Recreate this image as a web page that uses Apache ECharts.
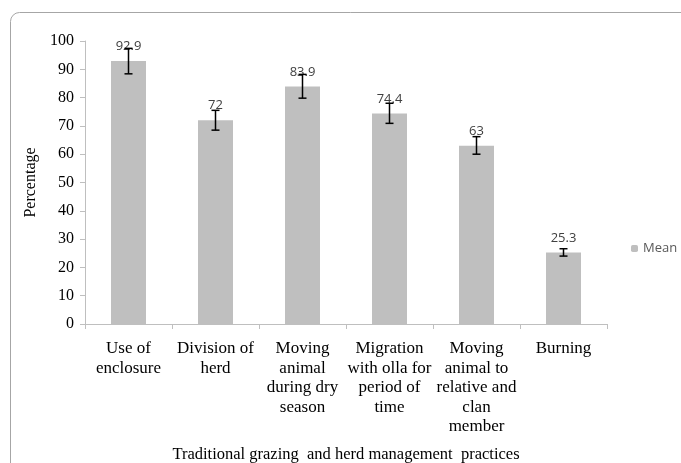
<!DOCTYPE html>
<html><head><meta charset="utf-8">
<script src="https://cdn.jsdelivr.net/npm/echarts@6/dist/echarts.min.js"></script>
<style>html,body{margin:0;padding:0;background:#fff}#c{width:681px;height:463px}</style>
</head><body><div id="c"></div>
<script>
var categories = ["Use of\nenclosure", "Division of\nherd", "Moving\nanimal\nduring dry\nseason", "Migration\nwith olla for\nperiod of\ntime", "Moving\nanimal to\nrelative and\nclan\nmember", "Burning"];
var meanValues = [92.9, 72, 83.9, 74.4, 63, 25.3];
var errLow = [88.4, 68.5, 79.8, 70.9, 60.0, 24.0];
var errHigh = [97.4, 75.5, 88.2, 78.0, 66.2, 26.6];
var yTicks = [0, 10, 20, 30, 40, 50, 60, 70, 80, 90, 100];

var errData = meanValues.map(function (v, i) { return [i, errLow[i], errHigh[i]]; });
var chart = echarts.init(document.getElementById('c'));
chart.setOption({
  animation: false,
  grid: { left: 85, right: 74, top: 41, bottom: 139 },
  graphic: [
    { type: 'rect', shape: { x: 10.5, y: 12.5, width: 720, height: 480, r: 9 }, style: { fill: 'none', stroke: '#a6a6a6', lineWidth: 1 }, z: -1 },
    { type: 'text', style: { text: 'Traditional grazing  and herd management  practices', x: 346, y: 455, align: 'center', verticalAlign: 'middle', font: '16.5px "Liberation Serif", serif', fill: '#000' } }
  ],
  legend: {
    data: ['Mean'], left: 626, top: 237, itemWidth: 7, itemHeight: 7, itemGap: 4,
    textStyle: { fontFamily: 'Open Sans', fontSize: 13, color: '#595959' }
  },
  xAxis: {
    type: 'category', data: categories,
    axisLine: { lineStyle: { color: '#bfbfbf', width: 1 } },
    axisTick: { show: true, length: 5, lineStyle: { color: '#bfbfbf' } },
    axisLabel: { interval: 0, margin: 15, fontFamily: 'Liberation Serif', fontSize: 17, lineHeight: 19.5, color: '#000' }
  },
  yAxis: {
    type: 'value', min: 0, max: 100, interval: 10,
    name: 'Percentage', nameLocation: 'middle', nameGap: 46, nameRotate: 90,
    nameTextStyle: { fontFamily: 'Liberation Serif', fontSize: 16, color: '#000' },
    axisLine: { show: true, lineStyle: { color: '#bfbfbf' } },
    axisTick: { show: true, length: 5, lineStyle: { color: '#bfbfbf' } },
    splitLine: { show: false },
    axisLabel: { margin: 11, fontFamily: 'Liberation Serif', fontSize: 16, color: '#000',
      formatter: function (v) { return yTicks.indexOf(v) >= 0 ? String(v) : ''; } }
  },
  series: [
    {
      name: 'Mean', type: 'bar', data: meanValues, barWidth: 35,
      itemStyle: { color: '#bfbfbf' },
      label: { show: true, position: 'top', distance: 8, fontFamily: 'Open Sans', fontSize: 13, color: '#404040' }
    },
    {
      name: 'err', type: 'custom', data: errData, z: 10,
      renderItem: function (params, api) {
        var x = api.value(0);
        var lo = api.coord([x, api.value(1)]);
        var hi = api.coord([x, api.value(2)]);
        var w = 4;
        var st = { stroke: '#000', lineWidth: 1.5 };
        return { type: 'group', children: [
          { type: 'line', shape: { x1: lo[0], y1: lo[1], x2: hi[0], y2: hi[1] }, style: st },
          { type: 'line', shape: { x1: lo[0] - w, y1: lo[1], x2: lo[0] + w, y2: lo[1] }, style: st },
          { type: 'line', shape: { x1: hi[0] - w, y1: hi[1], x2: hi[0] + w, y2: hi[1] }, style: st }
        ] };
      }
    }
  ]
});
</script></body></html>
